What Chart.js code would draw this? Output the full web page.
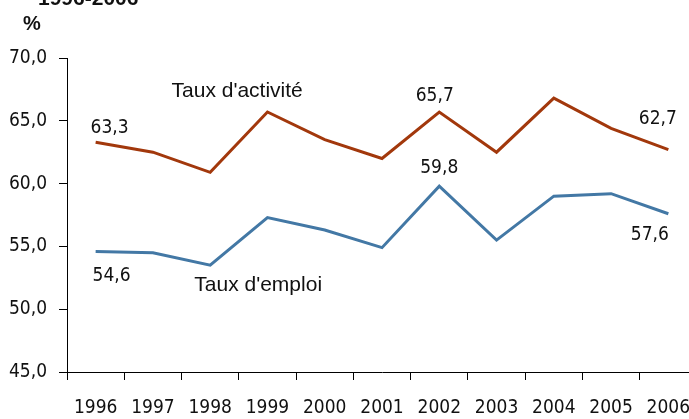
<!DOCTYPE html>
<html>
<head>
<meta charset="utf-8">
<script src="https://cdn.jsdelivr.net/npm/chart.js@4"></script>
<style>
  html, body { margin: 0; padding: 0; background: #fff; overflow: hidden; }
  #wrap { width: 698px; height: 419px; }
</style>
</head>
<body>
<div id="wrap"><canvas id="c" width="698" height="419"></canvas></div>
<script>
// ---- Data ----
const years = ['1996','1997','1998','1999','2000','2001','2002','2003','2004','2005','2006'];
const tauxActivite = [63.3, 62.5, 60.9, 65.7, 63.5, 62.0, 65.7, 62.5, 66.8, 64.4, 62.7];
const tauxEmploi   = [54.6, 54.5, 53.5, 57.3, 56.3, 54.9, 59.8, 55.5, 59.0, 59.2, 57.6];
const yTicks = [45, 50, 55, 60, 65, 70];
const seriesNames = ["Taux d'activité", "Taux d'emploi"];
const titleText = '1996-2006';
const unitText = '%';

// value labels: [series index, point index]
const valueLabels = [[0,0],[0,6],[0,10],[1,0],[1,6],[1,10]];

const NARROW = "'Liberation Sans Narrow', 'Arial Narrow', 'DejaVu Sans Condensed', sans-serif";
const REG = "'Liberation Sans', Arial, sans-serif";
const RED = '#a2380c';
const BLUE = '#4378a5';

function fmt(v) { return v.toFixed(1).replace('.', ','); }

// label offsets (pixel styling relative to the data point: dx, baseline dy)
const labelOffsets = {
  '0,0': [14, -9], '0,6': [-4.5, -11], '0,10': [-10.5, -26],
  '1,0': [16, 29.5], '1,6': [0, -13], '1,10': [-18.5, 26]
};

const annot = {
  id: 'annot',
  afterDatasetsDraw(chart) {
    const ctx = chart.ctx;
    const xs = chart.scales.x, ys = chart.scales.y;
    ctx.save();
    ctx.fillStyle = '#111';
    ctx.textAlign = 'center';
    ctx.textBaseline = 'alphabetic';
    ctx.font = '19px ' + NARROW;
    valueLabels.forEach(([s, i]) => {
      const v = chart.data.datasets[s].data[i];
      const off = labelOffsets[s + ',' + i];
      const px = xs.getPixelForValue(i) + off[0];
      const py = ys.getPixelForValue(v) + off[1];
      ctx.fillText(fmt(v), px, py);
    });
    // series names, anchored near points
    ctx.font = '21px ' + REG;
    const a = chart.getDatasetMeta(0).data[2];
    ctx.fillText(seriesNames[0], a.x + 27, a.y - 75);
    const b = chart.getDatasetMeta(1).data[2];
    ctx.fillText(seriesNames[1], b.x + 48, b.y + 26);
    // title (partially cropped) and unit
    ctx.textAlign = 'left';
    ctx.font = 'bold 21px ' + REG;
    ctx.fillText(titleText, 38, 5);
    ctx.font = 'bold 20px ' + REG;
    ctx.fillText(unitText, 23, 30);
    ctx.restore();
  }
};

new Chart(document.getElementById('c'), {
  type: 'line',
  data: {
    labels: years,
    datasets: [
      { label: seriesNames[0], data: tauxActivite, borderColor: RED, borderWidth: 3, pointRadius: 0, tension: 0, fill: false },
      { label: seriesNames[1], data: tauxEmploi, borderColor: BLUE, borderWidth: 3, pointRadius: 0, tension: 0, fill: false }
    ]
  },
  options: {
    responsive: false,
    animation: false,
    devicePixelRatio: 1,
    layout: { padding: { top: 58, right: 1, left: 0, bottom: 0 } },
    plugins: { legend: { display: false }, tooltip: { enabled: false }, title: { display: false } },
    scales: {
      x: {
        type: 'category',
        offset: true,
        grid: { display: true, drawOnChartArea: false, drawTicks: true, tickLength: 8, color: '#000', offset: true },
        border: { display: true, color: '#000', width: 1 },
        ticks: { color: '#111', font: { family: NARROW, size: 19 }, maxRotation: 0, autoSkip: false, padding: 17 },
        afterFit(scale) { scale.height = 47; scale.paddingLeft = 0; scale.paddingRight = 0; }
      },
      y: {
        min: 45, max: 70,
        afterBuildTicks(scale) { scale.ticks = yTicks.map(v => ({ value: v })); },
        grid: { display: true, drawOnChartArea: false, drawTicks: true, tickLength: 8, color: '#000' },
        border: { display: true, color: '#000', width: 1 },
        ticks: { color: '#111', font: { family: NARROW, size: 19 }, padding: 12, callback: v => fmt(v) },
        afterFit(scale) { scale.width = 67; scale.paddingTop = 0; scale.paddingBottom = 0; }
      }
    }
  },
  plugins: [annot]
});
</script>
</body>
</html>
